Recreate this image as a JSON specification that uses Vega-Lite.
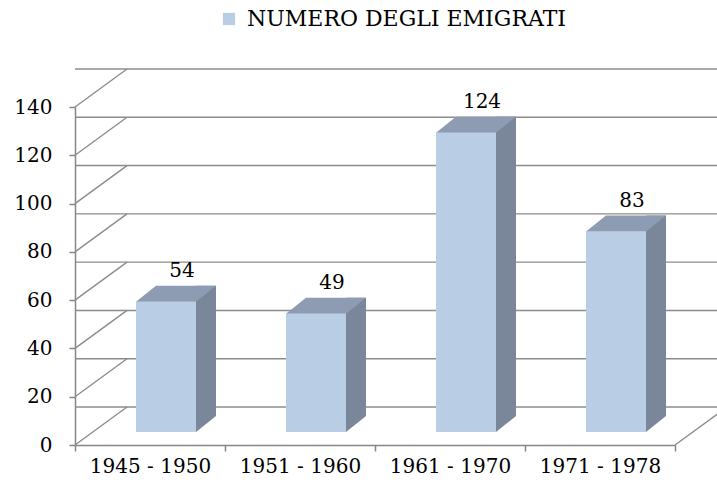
{
  "$schema": "https://vega.github.io/schema/vega-lite/v6.json",
  "width": 600,
  "height": 338,
  "autosize": {"type": "none"},
  "padding": {"left": 75, "top": 107, "right": 42, "bottom": 44},
  "background": "white",
  "config": {
    "view": {"stroke": null},
    "font": "DejaVu Serif",
    "axis": {"labelFont": "DejaVu Serif", "labelFontSize": 20, "labelColor": "black", "domainColor": "#868686", "tickColor": "#868686", "domainWidth": 1.5, "tickWidth": 1.5, "tickSize": 6, "grid": false, "title": null}
  },
  "datasets": {
    "bars": [
      {"period": "1945 - 1950", "emigrati": 54},
      {"period": "1951 - 1960", "emigrati": 49},
      {"period": "1961 - 1970", "emigrati": 124},
      {"period": "1971 - 1978", "emigrati": 83}
    ],
    "levels": [{"v": 0}, {"v": 20}, {"v": 40}, {"v": 60}, {"v": 80}, {"v": 100}, {"v": 120}, {"v": 140}]
  },
  "data": {"name": "bars"},
  "layer": [
    {
      "data": {"name": "levels"},
      "mark": {"type": "rule", "xOffset": 52, "x2Offset": 52, "yOffset": -38, "color": "#8c8c8c", "strokeWidth": 1.4},
      "encoding": {"y": {"field": "v", "type": "quantitative", "scale": {"domain": [0, 140], "nice": false}}}
    },
    {
      "data": {"name": "levels"},
      "mark": {"type": "rule", "x2Offset": 52, "y2Offset": -38, "color": "#8c8c8c", "strokeWidth": 1.4},
      "encoding": {
        "x": {"value": 0},
        "x2": {"value": 0},
        "y": {"field": "v", "type": "quantitative"},
        "y2": {"field": "v"}
      }
    },
    {
      "data": {"values": [{"v": 0}]},
      "mark": {"type": "rule", "x2Offset": 52, "y2Offset": -38, "color": "#8c8c8c", "strokeWidth": 1.4},
      "encoding": {
        "x": {"value": "width"},
        "x2": {"value": "width"},
        "y": {"field": "v", "type": "quantitative"},
        "y2": {"field": "v"}
      }
    },
    {
      "mark": {"type": "bar", "size": 20, "xOffset": 56, "yOffset": -29, "y2Offset": -29, "color": "#7a8699"},
      "encoding": {
        "x": {"field": "period", "type": "nominal", "sort": null, "scale": {"paddingInner": 0, "paddingOuter": 0},
              "axis": {"tickBand": "extent", "labelAngle": 0, "labelPadding": 5, "domain": true}},
        "y": {"field": "emigrati", "type": "quantitative", "scale": {"domain": [0, 140], "nice": false},
              "axis": {"values": [0, 20, 40, 60, 80, 100, 120, 140], "labelPadding": 17}},
        "y2": {"datum": 0}
      }
    },
    {
      "mark": {"type": "point", "filled": true, "opacity": 1, "strokeWidth": 0, "size": 400, "xOffset": 56, "yOffset": -21, "color": "#7a8699",
               "shape": "M -1 0.8 L -1 -0.8 L 1 -0.8 Z"},
      "encoding": {
        "x": {"field": "period", "type": "nominal", "sort": null},
        "y": {"datum": 0}
      }
    },
    {
      "mark": {"type": "bar", "size": 60, "xOffset": 16, "yOffset": -13, "y2Offset": -13},
      "encoding": {
        "x": {"field": "period", "type": "nominal", "sort": null},
        "y": {"field": "emigrati", "type": "quantitative"},
        "y2": {"datum": 0},
        "color": {"datum": "NUMERO DEGLI EMIGRATI", "type": "nominal",
                  "scale": {"range": ["#b9cde5"]},
                  "legend": {"orient": "none", "legendX": 143, "legendY": -99, "title": null,
                             "symbolType": "square", "symbolSize": 150, "symbolStrokeWidth": 0, "labelLimit": 0,
                             "labelFont": "DejaVu Serif", "labelFontSize": 22, "labelColor": "black", "labelOffset": 7}}
      }
    },
    {
      "mark": {"type": "point", "filled": true, "opacity": 1, "strokeWidth": 0, "size": 6400, "xOffset": 26, "yOffset": -21, "color": "#8e9cb3",
               "shape": "M -1 0.2 L 0.5 0.2 L 1 -0.2 L -0.5 -0.2 Z"},
      "encoding": {
        "x": {"field": "period", "type": "nominal", "sort": null},
        "y": {"field": "emigrati", "type": "quantitative"}
      }
    },
    {
      "mark": {"type": "text", "font": "DejaVu Serif", "fontSize": 20, "color": "black", "baseline": "alphabetic", "dx": 32, "dy": -38},
      "encoding": {
        "x": {"field": "period", "type": "nominal", "sort": null},
        "y": {"field": "emigrati", "type": "quantitative"},
        "text": {"field": "emigrati", "type": "quantitative"}
      }
    }
  ]
}
